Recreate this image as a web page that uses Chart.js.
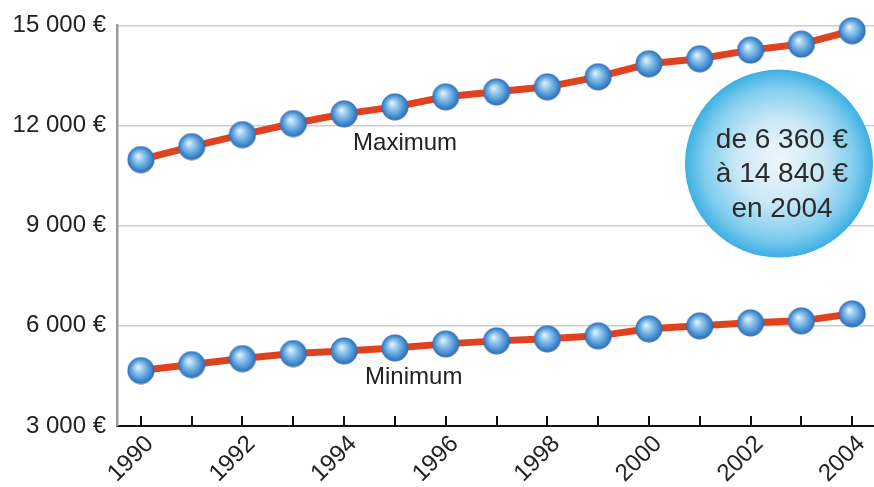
<!DOCTYPE html>
<html>
<head>
<meta charset="utf-8">
<script src="https://cdn.jsdelivr.net/npm/chart.js@4"></script>
<style>
  html, body { margin: 0; padding: 0; background: #fff; }
  #wrap { width: 874px; height: 487px; position: relative; }
</style>
</head>
<body>
<div id="wrap"><canvas id="c" width="874" height="487"></canvas></div>
<script>
// Annual salary range, 1990–2004
const years = [1990, 1991, 1992, 1993, 1994, 1995, 1996, 1997, 1998, 1999, 2000, 2001, 2002, 2003, 2004];
const maxValues = [10980, 11370, 11730, 12060, 12350, 12560, 12860, 13010, 13160, 13460, 13850, 14000, 14260, 14440, 14840];
const minValues = [4660, 4840, 5020, 5170, 5250, 5340, 5460, 5550, 5610, 5700, 5910, 6000, 6090, 6150, 6360];
const yTicks = [3000, 6000, 9000, 12000, 15000];
const seriesNames = ['Maximum', 'Minimum'];

const FONT = '"Liberation Sans", Arial, Helvetica, sans-serif';

function euro(n) {
  const s = String(Math.round(n)).replace(/\B(?=(\d{3})+(?!\d))/g, ' ');
  return s + ' €';
}

// Glossy blue ball used as point marker
function makeBall(d) {
  const c = document.createElement('canvas');
  c.width = d; c.height = d;
  const g = c.getContext('2d');
  const r = d / 2;
  const grad = g.createRadialGradient(r * 0.78, r * 0.72, 0, r, r, r);
  grad.addColorStop(0, '#eef7fe');
  grad.addColorStop(0.28, '#a2d0f1');
  grad.addColorStop(0.68, '#5199d8');
  grad.addColorStop(1, '#2a66ae');
  g.beginPath();
  g.arc(r, r, r - 0.5, 0, Math.PI * 2);
  g.fillStyle = grad;
  g.fill();
  return c;
}
const ball = makeBall(28);

const decorations = {
  id: 'decorations',
  beforeDatasetsDraw(chart) {
    const { ctx, scales: { x, y } } = chart;
    // info bubble
    const o = chart.options.plugins.decorations;
    const cx = x.getPixelForValue(o.bubble.x);
    const cy = y.getPixelForValue(o.bubble.y);
    const R = o.bubble.r;
    ctx.save();
    const grad = ctx.createRadialGradient(cx, cy - 4, 0, cx, cy, R);
    grad.addColorStop(0, '#eef7fc');
    grad.addColorStop(0.45, '#cbe8f6');
    grad.addColorStop(0.8, '#80cdee');
    grad.addColorStop(1, '#3dafe1');
    ctx.beginPath();
    ctx.arc(cx, cy, R, 0, Math.PI * 2);
    ctx.fillStyle = grad;
    ctx.fill();
    const last = years.length - 1;
    const lines = [
      'de ' + euro(minValues[last]),
      'à ' + euro(maxValues[last]),
      'en ' + years[last]
    ];
    ctx.fillStyle = '#2b2b2b';
    ctx.font = '28px ' + FONT;
    ctx.textAlign = 'center';
    ctx.textBaseline = 'middle';
    lines.forEach((t, i) => ctx.fillText(t, cx + 3, cy + 11 + (i - 1) * 34.5));
    ctx.restore();

    // short upward tick marks on the baseline
    ctx.save();
    ctx.strokeStyle = '#111';
    ctx.lineWidth = 2;
    const by = y.getPixelForValue(yTicks[0]);
    years.forEach(v => {
      const px = Math.round(x.getPixelForValue(v));
      ctx.beginPath();
      ctx.moveTo(px, by - 10);
      ctx.lineTo(px, by + 1);
      ctx.stroke();
    });
    ctx.restore();
  },
  afterDatasetsDraw(chart) {
    const { ctx, scales: { x, y } } = chart;
    const o = chart.options.plugins.decorations;
    ctx.save();
    ctx.fillStyle = '#222';
    ctx.font = '24px ' + FONT;
    ctx.textAlign = 'center';
    ctx.textBaseline = 'middle';
    o.labels.forEach(l => {
      ctx.fillText(l.text, x.getPixelForValue(l.x), y.getPixelForValue(l.y));
    });
    ctx.restore();
  }
};

const toPoints = vals => years.map((yr, i) => ({ x: yr, y: vals[i] }));

const lineStyle = {
  borderColor: '#e0421f',
  borderWidth: 7,
  pointStyle: ball,
  pointRadius: 14,
  pointBorderWidth: 0,
  pointHoverRadius: 14,
  tension: 0,
  clip: false
};

new Chart(document.getElementById('c'), {
  type: 'line',
  data: {
    datasets: [
      Object.assign({ label: seriesNames[0], data: toPoints(maxValues) }, lineStyle),
      Object.assign({ label: seriesNames[1], data: toPoints(minValues) }, lineStyle)
    ]
  },
  plugins: [decorations],
  options: {
    responsive: false,
    animation: false,
    devicePixelRatio: 1,
    layout: { autoPadding: false, padding: { top: 23, left: 0, right: 0, bottom: 0 } },
    plugins: {
      legend: { display: false },
      tooltip: { enabled: false },
      decorations: {
        bubble: { x: 2002.56, y: 10860, r: 94 },
        labels: [
          { text: seriesNames[0], x: 1995.2, y: 11460 },
          { text: seriesNames[1], x: 1995.37, y: 4450 }
        ]
      }
    },
    scales: {
      x: {
        type: 'linear',
        min: 1989.53,
        max: 2004.43,
        afterBuildTicks: s => { s.ticks = years.map(v => ({ value: v })); },
        afterFit: s => { s.height = 61; s.paddingLeft = 0; s.paddingRight = 0; },
        grid: { drawOnChartArea: false, drawTicks: false },
        border: { display: true, color: '#111', width: 2 },
        ticks: {
          autoSkip: false,
          minRotation: 45,
          maxRotation: 45,
          padding: 4,
          labelOffset: 9,
          color: '#222',
          font: { family: FONT, size: 24 },
          callback: v => (v % 2 === 0 ? String(v) : '')
        }
      },
      y: {
        min: yTicks[0],
        max: yTicks[yTicks.length - 1],
        afterBuildTicks: s => { s.ticks = yTicks.map(v => ({ value: v })); },
        afterFit: s => { s.width = 117; },
        grid: {
          drawTicks: false,
          lineWidth: 1.5,
          color: ctx => (ctx.tick && ctx.tick.value === yTicks[0] ? 'rgba(0,0,0,0)' : '#cdcdcd')
        },
        border: { display: true, color: '#9a9a9a', width: 2.5 },
        ticks: {
          padding: 11,
          color: '#222',
          font: { family: FONT, size: 24 },
          callback: v => euro(v)
        }
      }
    }
  }
});
</script>
</body>
</html>
